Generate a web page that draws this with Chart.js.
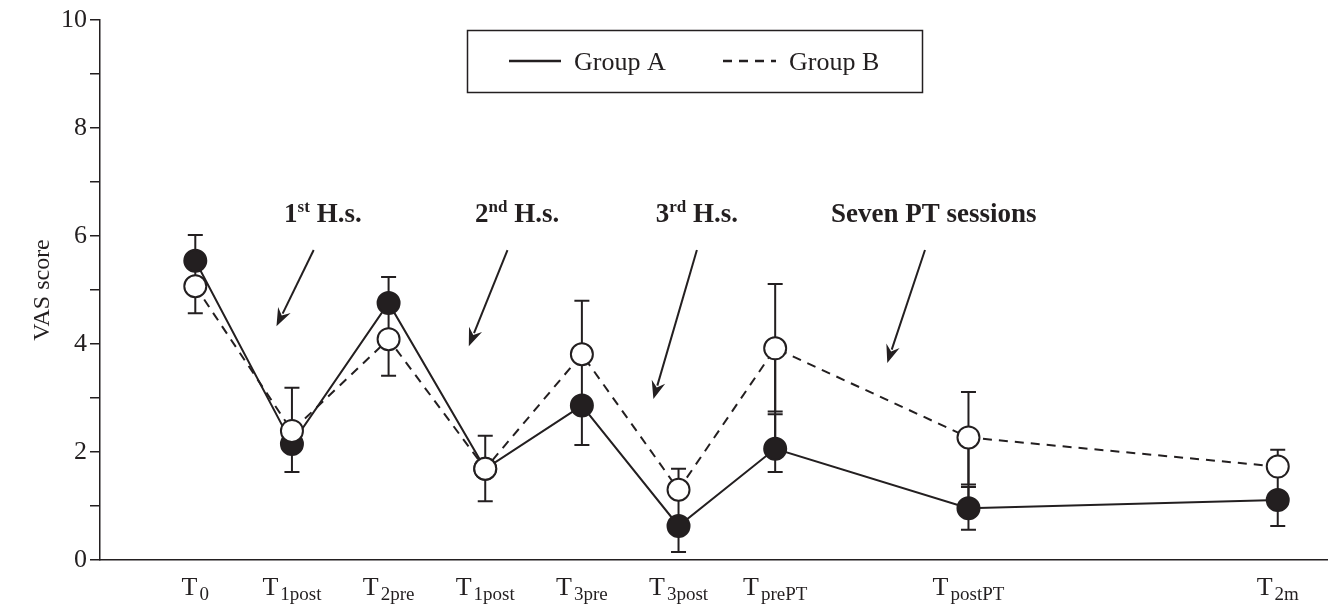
<!DOCTYPE html>
<html>
<head>
<meta charset="utf-8">
<script src="https://cdn.jsdelivr.net/npm/chart.js@4.4.1/dist/chart.umd.min.js"></script>
<style>
  html, body { margin: 0; padding: 0; background: #fff; }
  #wrap { width: 1328px; height: 605px; }
</style>
</head>
<body>
<div id="wrap"><canvas id="vas-chart" width="1328" height="605"></canvas></div>
<script>
// time points (x position on the time axis) and labels: "T" + subscript
const xPos = [0, 1, 2, 3, 4, 5, 6, 8, 11.2];
const tickSub = ['0', '1post', '2pre', '1post', '3pre', '3post', 'prePT', 'postPT', '2m'];

// mean VAS score
const groupA = [5.54, 2.15, 4.76, 1.69, 2.86, 0.63, 2.06, 0.96, 1.11];
const groupB = [5.07, 2.39, 4.09, 1.69, 3.81, 1.30, 3.92, 2.27, 1.73];

// error bar ends (null = not drawn)
const aUpper = [6.02, null, 5.24, null, null, null, 2.70, 1.35, null];
const aLower = [null, 1.63, null, 1.09, 2.13, 0.15, 1.63, 0.56, 0.63];
const bUpper = [null, 3.19, null, 2.30, 4.80, 1.69, 5.11, 3.11, 2.04];
const bLower = [4.57, null, 3.41, null, null, null, 2.75, 1.40, null];

// annotations: text + arrow (data units)
const noteMain = ['1', '2', '3', 'Seven PT sessions'];
const noteSup = ['st', 'nd', 'rd', ''];
const noteRest = [' H.s.', ' H.s.', ' H.s.', ''];
const noteX = [1.32, 3.33, 5.19, 7.64];
const noteY = 6.26;
const arrowFrom = [[1.225, 5.74], [3.23, 5.74], [5.19, 5.74], [7.55, 5.74]];
const arrowTo = [[0.84, 4.33], [2.83, 3.96], [4.74, 2.98], [7.16, 3.65]];

const INK = '#231f20';
const SERIF = "'Liberation Serif', 'DejaVu Serif', serif";

function pts(vals) {
    return vals.map((v, i) => ({ x: xPos[i], y: v }));
}

// error bars + stem between the two means, drawn under the markers
const errorBars = {
    id: 'errorBars',
    beforeDatasetsDraw(chart) {
        const c = chart.ctx, xs = chart.scales.x, ys = chart.scales.y;
        c.save();
        c.strokeStyle = INK;
        c.lineWidth = 2;
        const cap = 7.5;
        function bar(i, from, to) {
            if (to === null) return;
            const x = xs.getPixelForValue(xPos[i]);
            const y1 = ys.getPixelForValue(from), y2 = ys.getPixelForValue(to);
            c.beginPath();
            c.moveTo(x, y1); c.lineTo(x, y2);
            c.moveTo(x - cap, y2); c.lineTo(x + cap, y2);
            c.stroke();
        }
        xPos.forEach((xv, i) => {
            const x = xs.getPixelForValue(xv);
            c.beginPath();
            c.moveTo(x, ys.getPixelForValue(groupA[i]));
            c.lineTo(x, ys.getPixelForValue(groupB[i]));
            c.stroke();
            bar(i, groupA[i], aUpper[i]);
            bar(i, groupA[i], aLower[i]);
            bar(i, groupB[i], bUpper[i]);
            bar(i, groupB[i], bLower[i]);
        });
        c.restore();
    }
};

// x labels with subscripts, legend box, annotations
const extras = {
    id: 'extras',
    afterDraw(chart) {
        const c = chart.ctx, xs = chart.scales.x, ys = chart.scales.y;
        const area = chart.chartArea;
        c.save();
        c.fillStyle = INK;
        c.textBaseline = 'alphabetic';

        // x tick labels
        const base = area.bottom + 35;
        tickSub.forEach((s, i) => {
            c.font = '26px ' + SERIF;
            const wT = c.measureText('T').width + 2;
            c.font = '19px ' + SERIF;
            const wS = c.measureText(s).width;
            const x0 = xs.getPixelForValue(xPos[i]) - (wT + wS) / 2;
            c.font = '26px ' + SERIF;
            c.fillText('T', x0, base);
            c.font = '19px ' + SERIF;
            c.fillText(s, x0 + wT, base + 5);
        });

        // legend
        c.strokeStyle = INK;
        c.lineWidth = 1.5;
        c.strokeRect(467.5, 30.5, 455, 62);
        c.lineWidth = 2.5;
        c.beginPath(); c.moveTo(509, 61); c.lineTo(561, 61); c.stroke();
        c.setLineDash([9, 7]);
        c.beginPath(); c.moveTo(723, 61); c.lineTo(776, 61); c.stroke();
        c.setLineDash([]);
        c.font = '26px ' + SERIF;
        c.fillText('Group A', 574, 70);
        c.fillText('Group B', 789, 70);

        // annotations
        noteMain.forEach((m, i) => {
            c.font = 'bold 27px ' + SERIF;
            const w1 = c.measureText(m).width;
            const w3 = c.measureText(noteRest[i]).width;
            c.font = 'bold 17px ' + SERIF;
            const w2 = c.measureText(noteSup[i]).width;
            let x = xs.getPixelForValue(noteX[i]) - (w1 + w2 + w3) / 2;
            const y = ys.getPixelForValue(noteY);
            c.font = 'bold 27px ' + SERIF;
            c.fillText(m, x, y);
            c.font = 'bold 17px ' + SERIF;
            c.fillText(noteSup[i], x + w1, y - 10);
            c.font = 'bold 27px ' + SERIF;
            c.fillText(noteRest[i], x + w1 + w2, y);

            const fx = xs.getPixelForValue(arrowFrom[i][0]), fy = ys.getPixelForValue(arrowFrom[i][1]);
            const tx = xs.getPixelForValue(arrowTo[i][0]), ty = ys.getPixelForValue(arrowTo[i][1]);
            const ang = Math.atan2(ty - fy, tx - fx);
            const hl = 18, hw = 7;
            c.lineWidth = 2;
            c.beginPath();
            c.moveTo(fx, fy);
            c.lineTo(tx - Math.cos(ang) * (hl - 4), ty - Math.sin(ang) * (hl - 4));
            c.stroke();
            c.beginPath();
            c.moveTo(tx, ty);
            c.lineTo(tx - Math.cos(ang) * hl + Math.sin(ang) * hw, ty - Math.sin(ang) * hl - Math.cos(ang) * hw);
            c.lineTo(tx - Math.cos(ang) * (hl - 6), ty - Math.sin(ang) * (hl - 6));
            c.lineTo(tx - Math.cos(ang) * hl - Math.sin(ang) * hw, ty - Math.sin(ang) * hl + Math.cos(ang) * hw);
            c.closePath();
            c.fill();
        });
        c.restore();
    }
};

const ctx = document.getElementById('vas-chart').getContext('2d');
const vasChart = new Chart(ctx, {
    type: 'line',
    data: {
        datasets: [
            {
                label: 'Group B',
                data: pts(groupB),
                borderColor: INK,
                borderWidth: 2,
                borderDash: [9, 7],
                pointRadius: 11,
                pointBorderWidth: 2,
                pointBackgroundColor: '#ffffff',
                pointBorderColor: INK,
                tension: 0,
                order: 0
            },
            {
                label: 'Group A',
                data: pts(groupA),
                borderColor: INK,
                borderWidth: 2,
                pointRadius: 11,
                pointBorderWidth: 2,
                pointBackgroundColor: INK,
                pointBorderColor: INK,
                tension: 0,
                order: 1
            }
        ]
    },
    options: {
        responsive: false,
        animation: false,
        events: [],
        layout: { autoPadding: false, padding: { left: 28, right: 0, top: 20, bottom: 45 } },
        plugins: { legend: { display: false }, tooltip: { enabled: false } },
        scales: {
            x: {
                type: 'linear',
                min: -0.986,
                max: 11.72,
                grid: { display: false, drawTicks: false },
                border: { display: true, color: INK, width: 1.5 },
                ticks: { display: false },
                afterFit: s => { s.height = 0; }
            },
            y: {
                min: 0,
                max: 10,
                grid: { drawOnChartArea: false, drawTicks: true, tickLength: 10, color: INK, lineWidth: 1.5 },
                border: { display: true, color: INK, width: 1.5 },
                ticks: {
                    stepSize: 1,
                    color: INK,
                    padding: 3,
                    font: { family: SERIF, size: 26 },
                    callback: v => (v % 2 === 0 ? v : '')
                },
                title: {
                    display: true,
                    text: 'VAS score',
                    color: INK,
                    font: { family: SERIF, size: 24 },
                    padding: 0
                },
                afterFit: s => { s.width = 72; }
            }
        }
    },
    plugins: [errorBars, extras]
});
</script>
</body>
</html>
